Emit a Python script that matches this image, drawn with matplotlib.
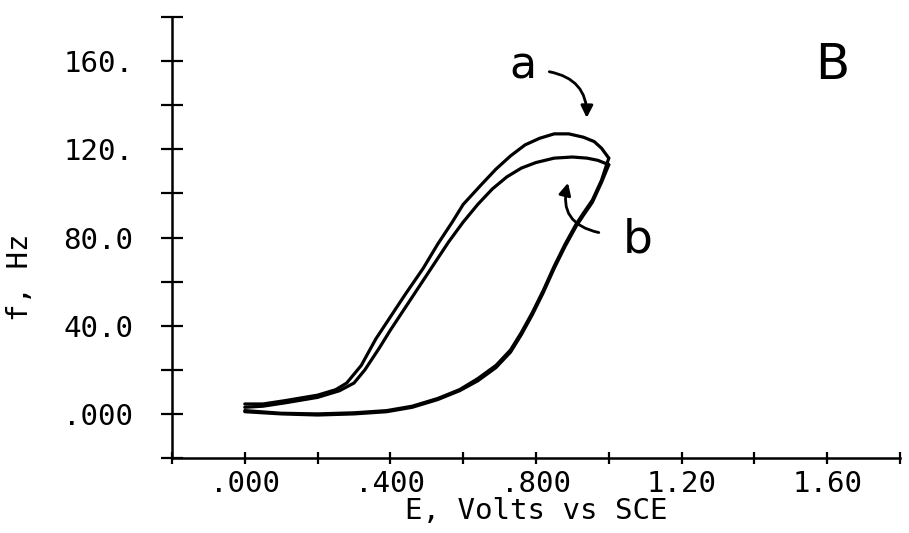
import matplotlib
matplotlib.use("Agg")
import matplotlib.pyplot as plt

# curve a (outer), anodic sweep: potential (V) and frequency (Hz)
a_up_v = [0.00, 0.05, 0.11, 0.20, 0.25, 0.28, 0.32, 0.36, 0.40, 0.44, 0.49, 0.53,
          0.57, 0.60, 0.65, 0.69, 0.73, 0.77, 0.81, 0.85, 0.89, 0.93, 0.96, 0.98, 1.00]
a_up_f = [4.5, 4.5, 6.0, 8.5, 11.0, 14.0, 22.0, 34.0, 44.0, 54.0, 66.0, 77.0,
          87.0, 95.0, 104.0, 111.0, 117.0, 122.0, 125.0, 127.0, 127.0, 125.5, 123.5, 120.5, 116.0]

# curve b (inner), anodic sweep
b_up_v = [0.00, 0.05, 0.11, 0.20, 0.26, 0.30, 0.33, 0.37, 0.40, 0.44, 0.48, 0.52,
          0.56, 0.60, 0.64, 0.68, 0.72, 0.76, 0.80, 0.85, 0.90, 0.94, 0.97, 1.00]
b_up_f = [3.0, 3.5, 5.0, 7.5, 10.5, 14.0, 20.0, 30.0, 38.0, 48.0, 58.0, 68.0,
          78.0, 87.0, 95.0, 102.0, 107.5, 111.5, 114.0, 116.0, 116.5, 116.0, 115.0, 113.0]

# cathodic sweep (a and b overlap)
ret_v = [1.00, 0.98, 0.955, 0.93, 0.91, 0.88, 0.85, 0.82, 0.79, 0.76, 0.73, 0.69,
         0.64, 0.59, 0.53, 0.46, 0.39, 0.30, 0.20, 0.10, 0.00]
ret_a_f = [116.0, 106.0, 97.0, 91.0, 86.0, 77.0, 67.0, 56.0, 46.0, 37.0, 29.0, 22.0,
           16.0, 11.0, 7.0, 3.5, 1.5, 0.5, 0.0, 0.3, 1.5]
ret_b_f = [113.0, 105.0, 96.0, 90.0, 85.0, 76.0, 66.0, 55.0, 45.0, 36.0, 28.0, 21.0,
           15.0, 10.5, 6.5, 3.0, 1.0, 0.0, -0.5, 0.0, 1.0]

x_ticks = [-0.2, 0.0, 0.2, 0.4, 0.6, 0.8, 1.0, 1.2, 1.4, 1.6, 1.8]
x_labels = ["", ".000", "", ".400", "", ".800", "", "1.20", "", "1.60", ""]
y_ticks = [-20, 0, 20, 40, 60, 80, 100, 120, 140, 160, 180]
y_labels = ["", ".000", "", "40.0", "", "80.0", "", "120.", "", "160.", ""]

mono = "DejaVu Sans Mono"

fig = plt.figure(figsize=(9.09, 5.33), dpi=100)
ax = fig.add_axes([0.1892, 0.1407, 0.8009, 0.8274])

for v, f in [(a_up_v, a_up_f), (b_up_v, b_up_f), (ret_v, ret_a_f), (ret_v, ret_b_f)]:
    ax.plot(v, f, color="black", lw=2.3, solid_capstyle="round")

ax.set_xlim(-0.2, 1.8)
ax.set_ylim(-20, 180)
for s in ["top", "right"]:
    ax.spines[s].set_visible(False)
for s in ["left", "bottom"]:
    ax.spines[s].set_linewidth(1.8)

ax.set_xticks(x_ticks, x_labels, fontfamily=mono, fontsize=21)
ax.set_yticks(y_ticks, y_labels, fontfamily=mono, fontsize=21)
ax.tick_params(axis="x", direction="inout", length=9, width=1.6, pad=4)
ax.tick_params(axis="y", direction="inout", length=16, width=1.6, pad=20)

ax.set_xlabel("E, Volts vs SCE", fontfamily=mono, fontsize=21)
ax.xaxis.set_label_coords(0.5, -0.088)
ax.set_ylabel("f, Hz", fontfamily=mono, fontsize=21)
ax.yaxis.set_label_coords(-0.19, 0.41)

ax.text(0.763, 152, "a", fontsize=32, ha="center", va="baseline")
ax.text(1.08, 73, "b", fontsize=34, ha="center", va="baseline")
ax.text(1.614, 152, "B", fontsize=36, ha="center", va="baseline")

ax.annotate("", xy=(0.939, 133), xytext=(0.829, 155.4),
            arrowprops=dict(arrowstyle="-|>", color="black", lw=2.0,
                            mutation_scale=18, connectionstyle="arc3,rad=-0.45"))
ax.annotate("", xy=(0.89, 106), xytext=(0.98, 82),
            arrowprops=dict(arrowstyle="-|>", color="black", lw=2.0,
                            mutation_scale=18, connectionstyle="arc3,rad=-0.55"))

fig.savefig("out.png", dpi=100)
